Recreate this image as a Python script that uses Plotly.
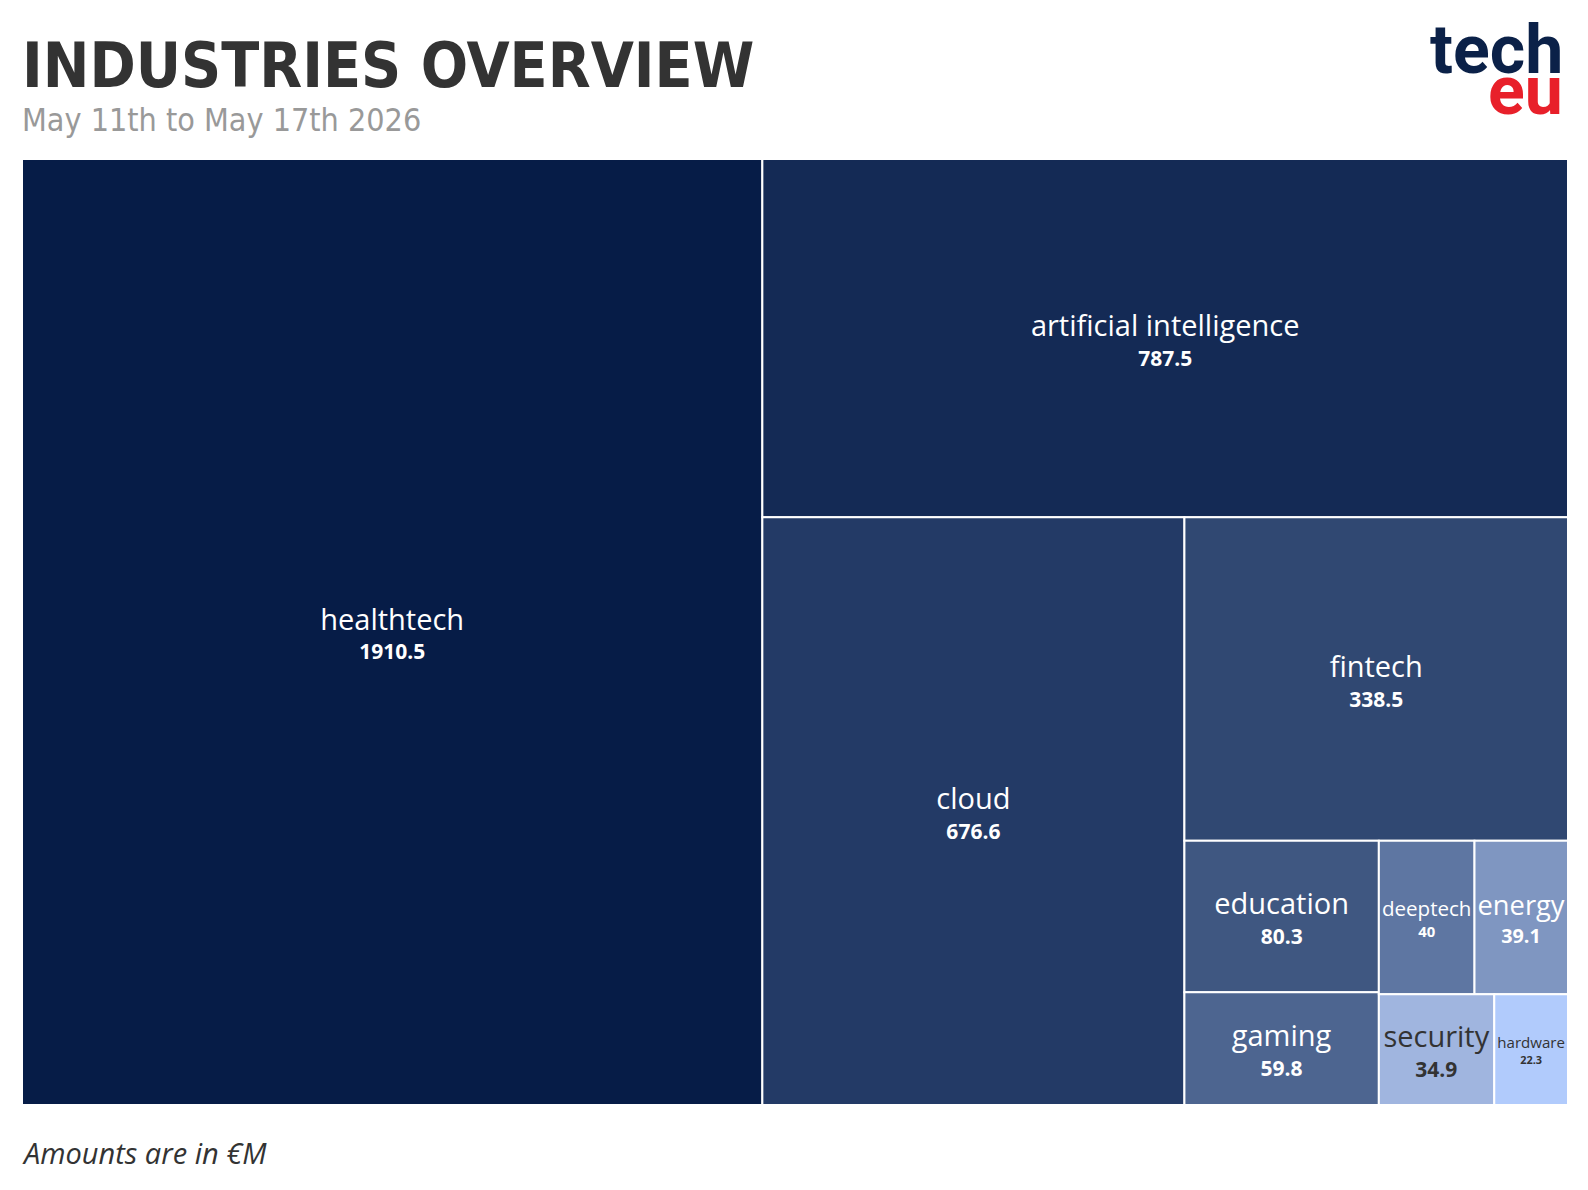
import plotly.graph_objects as go

industries = ["healthtech", "artificial intelligence", "cloud", "fintech", "education",
              "gaming", "deeptech", "energy", "security", "hardware"]
amounts = [1910.5, 787.5, 676.6, 338.5, 80.3, 59.8, 40, 39.1, 34.9, 22.3]
amount_labels = ["1910.5", "787.5", "676.6", "338.5", "80.3", "59.8", "40", "39.1", "34.9", "22.3"]
tile_colors = ["#061C47", "#142A55", "#233A66", "#304872", "#3F5781",
               "#4D6590", "#5E76A2", "#7F96C1", "#A0B5DF", "#B1CBFC"]
text_colors = ["#FFFFFF"] * 8 + ["#333333", "#333333"]

FW, FH = 1572, 1174          # figure size (page body has an 8px margin)
L, R, T, B = 14, 12, 151, 77  # margins in figure pixels

fig = go.Figure(go.Treemap(
    labels=industries,
    parents=[""] * len(industries),
    values=amounts,
    text=amount_labels,
    marker=dict(colors=tile_colors, line=dict(color="#FFFFFF", width=2),
                pad=dict(t=0, l=0, r=0, b=0)),
    texttemplate="<span style='font-size:29px'>%{label}</span><br>"
                 "<span style='font-size:21px'><b>%{text}</b></span>",
    textposition="middle center",
    textfont=dict(family="Open Sans", size=23, color=text_colors),
    tiling=dict(packing="binary", pad=0),
    pathbar=dict(visible=False),
    sort=True,
    hoverinfo="label+value",
))

fig.update_layout(
    width=FW, height=FH,
    margin=dict(l=L, r=R, t=T, b=B),
    paper_bgcolor="#FFFFFF",
    showlegend=False,
)

H = FH - T - B
W = FW - L - R
S = 1588 / 1568  # reference measured on the 1568-wide preview


def py(ypix):  # preview pixel -> paper y
    return (FH - B - (ypix * S - 8)) / H


def px(xpix):  # preview pixel -> paper x
    return ((xpix * S - 8) - L) / W


fig.add_annotation(text="<b>INDUSTRIES OVERVIEW</b>", x=px(20), y=py(65), xref="paper", yref="paper",
                   xanchor="left", yanchor="middle", showarrow=False,
                   font=dict(family="DejaVu Sans Condensed", size=62, color="#333333"))
fig.add_annotation(text="May 11th to May 17th 2026", x=px(20), y=py(118), xref="paper", yref="paper",
                   xanchor="left", yanchor="middle", showarrow=False,
                   font=dict(family="DejaVu Sans Condensed", size=32, color="#999999"))
fig.add_annotation(text="<i>Amounts are in €M</i>", x=px(20), y=py(1138), xref="paper", yref="paper",
                   xanchor="left", yanchor="middle", showarrow=False,
                   font=dict(family="Open Sans", size=29, color="#333333"))
fig.add_annotation(text="<b>tech</b>", x=px(1545), y=(FH - B) / H, xref="paper", yref="paper",
                   xanchor="right", yanchor="top", showarrow=False,
                   font=dict(family="Roboto", size=68, color="#0B2148"))
fig.add_annotation(text="<b>eu</b>", x=px(1545), y=py(90), xref="paper", yref="paper",
                   xanchor="right", yanchor="middle", showarrow=False,
                   font=dict(family="Roboto", size=68, color="#E8202A"))

fig.write_html("out.html")
